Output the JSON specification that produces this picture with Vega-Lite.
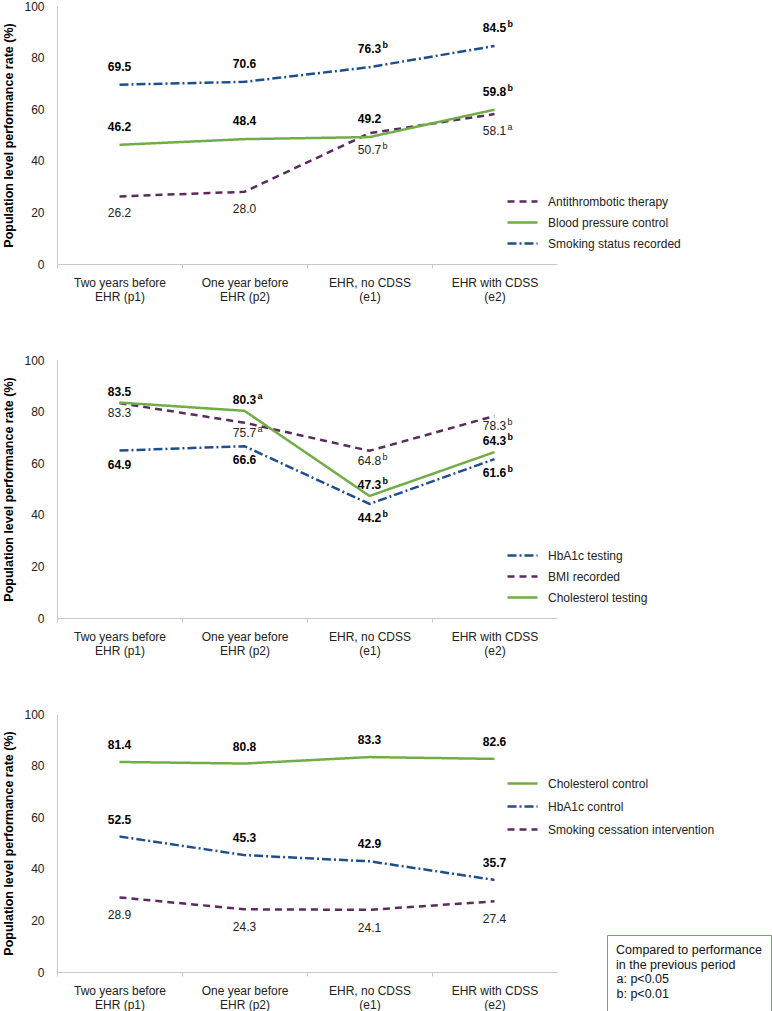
{
  "$schema": "https://vega.github.io/schema/vega-lite/v6.json",
  "padding": {"left": 2, "top": 0, "right": 0, "bottom": 0},
  "background": "white",
  "datasets": {
    "p1": [
      {"series": "Antithrombotic therapy", "period": "Two years before EHR (p1)", "value": 26.2, "sig": ""},
      {"series": "Antithrombotic therapy", "period": "One year before EHR (p2)", "value": 28.0, "sig": ""},
      {"series": "Antithrombotic therapy", "period": "EHR, no CDSS (e1)", "value": 50.7, "sig": "b"},
      {"series": "Antithrombotic therapy", "period": "EHR with CDSS (e2)", "value": 58.1, "sig": "a"},
      {"series": "Blood pressure control", "period": "Two years before EHR (p1)", "value": 46.2, "sig": ""},
      {"series": "Blood pressure control", "period": "One year before EHR (p2)", "value": 48.4, "sig": ""},
      {"series": "Blood pressure control", "period": "EHR, no CDSS (e1)", "value": 49.2, "sig": ""},
      {"series": "Blood pressure control", "period": "EHR with CDSS (e2)", "value": 59.8, "sig": "b"},
      {"series": "Smoking status recorded", "period": "Two years before EHR (p1)", "value": 69.5, "sig": ""},
      {"series": "Smoking status recorded", "period": "One year before EHR (p2)", "value": 70.6, "sig": ""},
      {"series": "Smoking status recorded", "period": "EHR, no CDSS (e1)", "value": 76.3, "sig": "b"},
      {"series": "Smoking status recorded", "period": "EHR with CDSS (e2)", "value": 84.5, "sig": "b"}
    ],
    "p2": [
      {"series": "HbA1c testing", "period": "Two years before EHR (p1)", "value": 64.9, "sig": ""},
      {"series": "HbA1c testing", "period": "One year before EHR (p2)", "value": 66.6, "sig": ""},
      {"series": "HbA1c testing", "period": "EHR, no CDSS (e1)", "value": 44.2, "sig": "b"},
      {"series": "HbA1c testing", "period": "EHR with CDSS (e2)", "value": 61.6, "sig": "b"},
      {"series": "BMI recorded", "period": "Two years before EHR (p1)", "value": 83.3, "sig": ""},
      {"series": "BMI recorded", "period": "One year before EHR (p2)", "value": 75.7, "sig": "a"},
      {"series": "BMI recorded", "period": "EHR, no CDSS (e1)", "value": 64.8, "sig": "b"},
      {"series": "BMI recorded", "period": "EHR with CDSS (e2)", "value": 78.3, "sig": "b"},
      {"series": "Cholesterol testing", "period": "Two years before EHR (p1)", "value": 83.5, "sig": ""},
      {"series": "Cholesterol testing", "period": "One year before EHR (p2)", "value": 80.3, "sig": "a"},
      {"series": "Cholesterol testing", "period": "EHR, no CDSS (e1)", "value": 47.3, "sig": "b"},
      {"series": "Cholesterol testing", "period": "EHR with CDSS (e2)", "value": 64.3, "sig": "b"}
    ],
    "p3": [
      {"series": "Cholesterol control", "period": "Two years before EHR (p1)", "value": 81.4, "sig": ""},
      {"series": "Cholesterol control", "period": "One year before EHR (p2)", "value": 80.8, "sig": ""},
      {"series": "Cholesterol control", "period": "EHR, no CDSS (e1)", "value": 83.3, "sig": ""},
      {"series": "Cholesterol control", "period": "EHR with CDSS (e2)", "value": 82.6, "sig": ""},
      {"series": "HbA1c control", "period": "Two years before EHR (p1)", "value": 52.5, "sig": ""},
      {"series": "HbA1c control", "period": "One year before EHR (p2)", "value": 45.3, "sig": ""},
      {"series": "HbA1c control", "period": "EHR, no CDSS (e1)", "value": 42.9, "sig": ""},
      {"series": "HbA1c control", "period": "EHR with CDSS (e2)", "value": 35.7, "sig": ""},
      {"series": "Smoking cessation intervention", "period": "Two years before EHR (p1)", "value": 28.9, "sig": ""},
      {"series": "Smoking cessation intervention", "period": "One year before EHR (p2)", "value": 24.3, "sig": ""},
      {"series": "Smoking cessation intervention", "period": "EHR, no CDSS (e1)", "value": 24.1, "sig": ""},
      {"series": "Smoking cessation intervention", "period": "EHR with CDSS (e2)", "value": 27.4, "sig": ""}
    ],
    "notes": [
      {"note": "a: p<0.05"},
      {"note": "b: p<0.01"}
    ]
  },
  "spacing": 52,
  "vconcat": [
    {
      "width": 500,
      "height": 258,
      "data": {"name": "p1"},
      "encoding": {
        "x": {"field": "period", "type": "nominal", "title": null,
          "sort": ["Two years before EHR (p1)", "One year before EHR (p2)", "EHR, no CDSS (e1)", "EHR with CDSS (e2)"],
          "scale": {"type": "band", "paddingInner": 0, "paddingOuter": 0},
          "axis": {"labelAngle": 0, "ticks": true, "tickSize": 4, "tickOffset": -62.5, "labelOffset": 62.5, "labelPadding": 9, "labelLineHeight": 14, "labelBaseline": "top",
            "labelExpr": "indexof(datum.value,'before')>=0 ? [slice(datum.value,0,indexof(datum.value,'before')+6), slice(datum.value,indexof(datum.value,'before')+7)] : [slice(datum.value,0,indexof(datum.value,' (')), slice(datum.value,indexof(datum.value,' (')+1)]"}},
        "y": {"field": "value", "type": "quantitative", "title": "Population level performance rate (%)",
          "scale": {"domain": [0, 100]},
          "axis": {"values": [0, 20, 40, 60, 80, 100], "ticks": false, "labelPadding": 13, "titlePadding": 8}}
      },
      "layer": [
        {
          "mark": {"type": "line", "strokeWidth": 2.5},
          "encoding": {
            "color": {"field": "series", "type": "nominal",
              "scale": {"domain": ["Antithrombotic therapy", "Blood pressure control", "Smoking status recorded"], "range": ["#5b2a5f", "#70ad47", "#1f4e8c"]},
              "legend": {"orient": "none", "legendX": 449, "legendY": 185}},
            "strokeDash": {"field": "series", "type": "nominal",
              "scale": {"domain": ["Antithrombotic therapy", "Blood pressure control", "Smoking status recorded"], "range": [[7, 5], [1, 0], [9, 3, 2, 3]]},
              "legend": {"orient": "none", "legendX": 449, "legendY": 185}}
          }
        },
        {
          "transform": [{"filter": {"field": "series", "oneOf": ["Smoking status recorded", "Blood pressure control"]}}],
          "mark": {"type": "text", "fontWeight": "bold", "fontSize": 12, "dy": -18, "color": "#000"},
          "encoding": {"text": {"field": "value", "type": "quantitative", "format": ".1f"}}
        },
        {
          "transform": [{"filter": {"field": "series", "oneOf": ["Smoking status recorded", "Blood pressure control"]}}],
          "mark": {"type": "text", "fontWeight": "bold", "fontSize": 9, "dy": -22, "dx": 13, "align": "left", "color": "#000"},
          "encoding": {"text": {"field": "sig", "type": "nominal"}}
        },
        {
          "transform": [{"filter": {"field": "series", "equal": "Antithrombotic therapy"}}],
          "mark": {"type": "text", "fontSize": 12, "dy": 17, "color": "#222"},
          "encoding": {"text": {"field": "value", "type": "quantitative", "format": ".1f"}}
        },
        {
          "transform": [{"filter": {"field": "series", "equal": "Antithrombotic therapy"}}],
          "mark": {"type": "text", "fontSize": 9, "dy": 13, "dx": 13, "align": "left", "color": "#222"},
          "encoding": {"text": {"field": "sig", "type": "nominal"}}
        }
      ]
    },
    {
      "width": 500,
      "height": 258,
      "data": {"name": "p2"},
      "encoding": {
        "x": {"field": "period", "type": "nominal", "title": null,
          "sort": ["Two years before EHR (p1)", "One year before EHR (p2)", "EHR, no CDSS (e1)", "EHR with CDSS (e2)"],
          "scale": {"type": "band", "paddingInner": 0, "paddingOuter": 0},
          "axis": {"labelAngle": 0, "ticks": true, "tickSize": 4, "tickOffset": -62.5, "labelOffset": 62.5, "labelPadding": 9, "labelLineHeight": 14, "labelBaseline": "top",
            "labelExpr": "indexof(datum.value,'before')>=0 ? [slice(datum.value,0,indexof(datum.value,'before')+6), slice(datum.value,indexof(datum.value,'before')+7)] : [slice(datum.value,0,indexof(datum.value,' (')), slice(datum.value,indexof(datum.value,' (')+1)]"}},
        "y": {"field": "value", "type": "quantitative", "title": "Population level performance rate (%)",
          "scale": {"domain": [0, 100]},
          "axis": {"values": [0, 20, 40, 60, 80, 100], "ticks": false, "labelPadding": 13, "titlePadding": 8}}
      },
      "layer": [
        {
          "mark": {"type": "line", "strokeWidth": 2.5},
          "encoding": {
            "color": {"field": "series", "type": "nominal",
              "scale": {"domain": ["HbA1c testing", "BMI recorded", "Cholesterol testing"], "range": ["#1f4e8c", "#5b2a5f", "#70ad47"]},
              "legend": {"orient": "none", "legendX": 449, "legendY": 185}},
            "strokeDash": {"field": "series", "type": "nominal",
              "scale": {"domain": ["HbA1c testing", "BMI recorded", "Cholesterol testing"], "range": [[9, 3, 2, 3], [7, 5], [1, 0]]},
              "legend": {"orient": "none", "legendX": 449, "legendY": 185}}
          }
        },
        {
          "transform": [{"filter": {"field": "series", "equal": "Cholesterol testing"}}],
          "mark": {"type": "text", "fontWeight": "bold", "fontSize": 12, "dy": -11, "color": "#000"},
          "encoding": {"text": {"field": "value", "type": "quantitative", "format": ".1f"}}
        },
        {
          "transform": [{"filter": {"field": "series", "equal": "Cholesterol testing"}}],
          "mark": {"type": "text", "fontWeight": "bold", "fontSize": 9, "dy": -15, "dx": 13, "align": "left", "color": "#000"},
          "encoding": {"text": {"field": "sig", "type": "nominal"}}
        },
        {
          "transform": [{"filter": {"field": "series", "equal": "HbA1c testing"}}],
          "mark": {"type": "text", "fontWeight": "bold", "fontSize": 12, "dy": 14, "color": "#000"},
          "encoding": {"text": {"field": "value", "type": "quantitative", "format": ".1f"}}
        },
        {
          "transform": [{"filter": {"field": "series", "equal": "HbA1c testing"}}],
          "mark": {"type": "text", "fontWeight": "bold", "fontSize": 9, "dy": 10, "dx": 13, "align": "left", "color": "#000"},
          "encoding": {"text": {"field": "sig", "type": "nominal"}}
        },
        {
          "transform": [{"filter": {"field": "series", "equal": "BMI recorded"}}],
          "mark": {"type": "text", "fontSize": 12, "dy": 10, "color": "#222"},
          "encoding": {"text": {"field": "value", "type": "quantitative", "format": ".1f"}}
        },
        {
          "transform": [{"filter": {"field": "series", "equal": "BMI recorded"}}],
          "mark": {"type": "text", "fontSize": 9, "dy": 6, "dx": 13, "align": "left", "color": "#222"},
          "encoding": {"text": {"field": "sig", "type": "nominal"}}
        }
      ]
    },
    {
      "width": 500,
      "height": 258,
      "data": {"name": "p3"},
      "encoding": {
        "x": {"field": "period", "type": "nominal", "title": null,
          "sort": ["Two years before EHR (p1)", "One year before EHR (p2)", "EHR, no CDSS (e1)", "EHR with CDSS (e2)"],
          "scale": {"type": "band", "paddingInner": 0, "paddingOuter": 0},
          "axis": {"labelAngle": 0, "ticks": true, "tickSize": 4, "tickOffset": -62.5, "labelOffset": 62.5, "labelPadding": 9, "labelLineHeight": 14, "labelBaseline": "top",
            "labelExpr": "indexof(datum.value,'before')>=0 ? [slice(datum.value,0,indexof(datum.value,'before')+6), slice(datum.value,indexof(datum.value,'before')+7)] : [slice(datum.value,0,indexof(datum.value,' (')), slice(datum.value,indexof(datum.value,' (')+1)]"}},
        "y": {"field": "value", "type": "quantitative", "title": "Population level performance rate (%)",
          "scale": {"domain": [0, 100]},
          "axis": {"values": [0, 20, 40, 60, 80, 100], "ticks": false, "labelPadding": 13, "titlePadding": 8}}
      },
      "layer": [
        {
          "mark": {"type": "line", "strokeWidth": 2.5},
          "encoding": {
            "color": {"field": "series", "type": "nominal",
              "scale": {"domain": ["Cholesterol control", "HbA1c control", "Smoking cessation intervention"], "range": ["#70ad47", "#1f4e8c", "#5b2a5f"]},
              "legend": {"orient": "none", "legendX": 449, "legendY": 58, "clipHeight": 23}},
            "strokeDash": {"field": "series", "type": "nominal",
              "scale": {"domain": ["Cholesterol control", "HbA1c control", "Smoking cessation intervention"], "range": [[1, 0], [9, 3, 2, 3], [7, 5]]},
              "legend": {"orient": "none", "legendX": 449, "legendY": 58, "clipHeight": 23}}
          }
        },
        {
          "transform": [{"filter": {"field": "series", "oneOf": ["Cholesterol control", "HbA1c control"]}}],
          "mark": {"type": "text", "fontWeight": "bold", "fontSize": 12, "dy": -17, "color": "#000"},
          "encoding": {"text": {"field": "value", "type": "quantitative", "format": ".1f"}}
        },
        {
          "transform": [{"filter": {"field": "series", "equal": "Smoking cessation intervention"}}],
          "mark": {"type": "text", "fontSize": 12, "dy": 18, "color": "#222"},
          "encoding": {"text": {"field": "value", "type": "quantitative", "format": ".1f"}}
        },
        {
          "data": {"name": "notes"},
          "mark": {"type": "point", "opacity": 0},
          "encoding": {
            "x": {"value": 0},
            "y": {"value": 0},
            "shape": {"field": "note", "type": "nominal",
              "legend": {"orient": "none", "legendX": 550, "legendY": 221,
                "title": ["Compared to performance", "in the previous period"],
                "titleFontWeight": "normal", "titleFontSize": 12.5, "titleLineHeight": 15, "titlePadding": 0, "titleColor": "#111",
                "labelFontSize": 12.5, "labelColor": "#111", "labelOffset": -12,
                "symbolOpacity": 0, "symbolSize": 0, "symbolStrokeWidth": 0,
                "clipHeight": 15, "rowPadding": 0, "padding": 9,
                "strokeColor": "#70ad47",
                "encode": {"legend": {"enter": {"stroke": {"value": "#70ad47"}, "strokeWidth": {"value": 2}}, "update": {"stroke": {"value": "#70ad47"}, "strokeWidth": {"value": 2}}}}}}
          }
        }
      ]
    }
  ],
  "resolve": {"scale": {"color": "independent", "strokeDash": "independent", "shape": "independent"}, "legend": {"color": "independent", "strokeDash": "independent", "shape": "independent"}},
  "config": {
    "font": "Liberation Sans",
    "view": {"stroke": null},
    "axis": {"grid": false, "domainColor": "#c8c8c8", "tickColor": "#c8c8c8", "labelFontSize": 12, "labelColor": "#222", "titleFontSize": 12.5, "titleFontWeight": "bold", "titleColor": "#000"},
    "legend": {"title": null, "symbolType": "stroke", "symbolSize": 900, "symbolStrokeWidth": 2.5, "labelFontSize": 12, "labelColor": "#222", "labelOffset": 9, "labelLimit": 300, "clipHeight": 21, "rowPadding": 0, "padding": 0}
  }
}
